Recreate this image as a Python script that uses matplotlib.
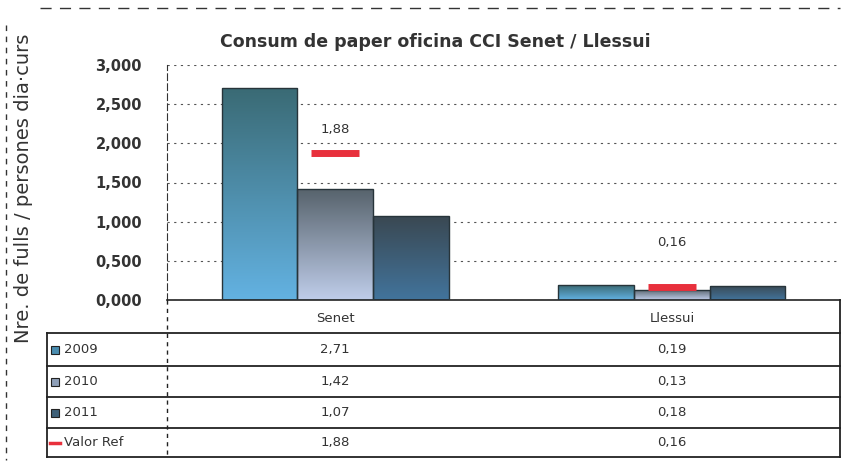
import numpy as np
import matplotlib
matplotlib.use("Agg")
import matplotlib.pyplot as plt
from matplotlib.colors import LinearSegmentedColormap
from matplotlib.ticker import FuncFormatter, MultipleLocator

# ======================================
# Data
# ======================================

categories = ["Senet", "Llessui"]
series_names = ["2009", "2010", "2011"]
vals_2009 = [2.71, 0.19]
vals_2010 = [1.42, 0.13]
vals_2011 = [1.07, 0.18]
ref_name = "Valor Ref"
valor_ref = [1.88, 0.16]

title = "Consum de paper oficina CCI Senet / Llessui"
ylabel = "Nre. de fulls / persones dia·curs"

# gradient (top, bottom) per series
grads = [("#3a6a74", "#63b2e2"), ("#56626b", "#bfcdea"), ("#3a4852", "#42749c")]
keys = ["#4a8db0", "#8e9fb8", "#3e6078"]
ref_color = "#e8303c"
label_offsets = [12, 28]
W, H = 853, 473


def fmt(v, nd=2):
    return f"{v:.{nd}f}".replace(".", ",")


# ======================================
# Figure
# ======================================

fig = plt.figure(figsize=(W / 100, H / 100), dpi=100)
fig.patch.set_facecolor("white")

# plot area in pixels: x 167-840, y 65-300
ax = fig.add_axes([167 / W, 1 - 300 / H, (840 - 167) / W, (300 - 65) / H])

x = np.arange(len(categories))
bw = 0.225
all_vals = [vals_2009, vals_2010, vals_2011]

for i, vals in enumerate(all_vals):
    bars = ax.bar(x + (i - 1) * bw, vals, width=bw, facecolor="none",
                  edgecolor="#27343a", linewidth=1.0, zorder=3)
    cmap = LinearSegmentedColormap.from_list(f"g{i}", [grads[i][1], grads[i][0]])
    grad = np.linspace(0, 1, 256).reshape(-1, 1)
    for b in bars:
        x0, w, h = b.get_x(), b.get_width(), b.get_height()
        im = ax.imshow(grad, cmap=cmap, origin="lower", aspect="auto",
                       extent=(x0, x0 + w, 0, h), zorder=2)
        im.set_clip_path(b)

# reference values as short red dashes
ax.plot(x, valor_ref, linestyle="none", marker="_", markersize=35,
        markeredgewidth=5, color=ref_color, zorder=4)
for xi, v, off in zip(x, valor_ref, label_offsets):
    ax.annotate(fmt(v), (xi, v), xytext=(0, off), textcoords="offset points",
                ha="center", va="bottom", fontsize=9.5, color="#333333")

ax.set_xlim(-0.5, 1.5)
ax.set_ylim(0, 3.0)
ax.yaxis.set_major_locator(MultipleLocator(0.5))
ax.yaxis.set_major_formatter(FuncFormatter(lambda v, p: fmt(v, 3)))
ax.set_xticks([])
ax.tick_params(axis="y", length=0, pad=18, labelsize=10.5, labelcolor="#333333")
for lab in ax.get_yticklabels():
    lab.set_fontweight("bold")
ax.grid(axis="y", linestyle=(0, (2, 4)), color="#555555", linewidth=0.8)
ax.set_axisbelow(True)
for s in ["top", "right"]:
    ax.spines[s].set_visible(False)
ax.spines["left"].set_linestyle((0, (6, 3)))
ax.spines["left"].set_color("#333333")
ax.spines["bottom"].set_color("#222222")
ax.spines["bottom"].set_linewidth(1.2)

# ======================================
# Data table + decorations (pixel coords)
# ======================================

ov = fig.add_axes([0, 0, 1, 1])
ov.set_xlim(0, W)
ov.set_ylim(H, 0)
ov.axis("off")

lc = "#222222"
row_y = [333, 366, 397, 428, 457]
for y in row_y:
    ov.plot([47, 840], [y, y], color=lc, lw=1.3)
ov.plot([47, 47], [333, 457], color=lc, lw=1.3)
ov.plot([167, 167], [300, 457], color=lc, lw=1.0, ls=(0, (3, 3)))
ov.plot([840, 840], [300, 457], color=lc, lw=1.3)

col_x = [335, 672]
for cx, cat in zip(col_x, categories):
    ov.text(cx, 318, cat, ha="center", va="center", fontsize=9.5, color="#333333")

rows = series_names + [ref_name]
row_vals = all_vals + [valor_ref]
for r, (name, vals) in enumerate(zip(rows, row_vals)):
    cy = (row_y[r] + row_y[r + 1]) / 2
    if r < 3:
        ov.add_patch(plt.Rectangle((51, cy - 4), 8, 8, facecolor=keys[r],
                                   edgecolor="#222222", lw=0.8))
    else:
        ov.plot([50, 60], [cy, cy], color=ref_color, lw=2.5)
    ov.text(64, cy, name, ha="left", va="center", fontsize=9.5, color="#333333")
    for cx, v in zip(col_x, vals):
        ov.text(cx, cy, fmt(v), ha="center", va="center", fontsize=9.5,
                color="#333333")

# chart border remnants
ov.plot([40, 840], [8, 8], color="#333333", lw=1.0, ls=(0, (8, 6)))
ov.plot([6, 6], [25, 460], color="#333333", lw=1.0, ls=(0, (4, 4)))

fig.text(435 / W, 1 - 42 / H, title, ha="center", va="center",
         fontsize=12.5, fontweight="bold", color="#333333")
fig.text(24 / W, 1 - 188 / H, ylabel, ha="center", va="center",
         rotation=90, fontsize=14, color="#333333")

fig.savefig("out.png", dpi=100)
plt.close(fig)
